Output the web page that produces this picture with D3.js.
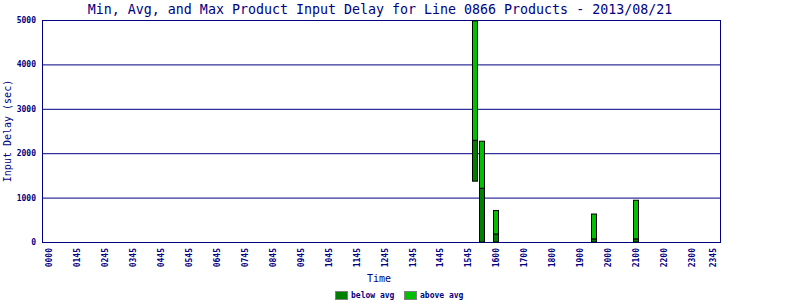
<!DOCTYPE html>
<html><head><meta charset="utf-8">
<script src="https://cdn.jsdelivr.net/npm/d3@7"></script>
<style>body{margin:0;background:#fff}svg{display:block}</style>
</head><body>
<svg id="c" width="800" height="300"></svg>
<script>
const titleText = "Min, Avg, and Max Product Input Delay for Line 0866 Products - 2013/08/21";
const barTimes = [15.25, 15.5, 16.0, 19.5, 21.0];
const minVals = [1370, 0, 0, 0, 0];
const avgVals = [2290, 1210, 180, 70, 70];
const maxVals = [4980, 2270, 710, 630, 940];
const tickPos = [0,1,2,3,4,5,6,7,8,9,10,11,12,13,14,15,16,17,18,19,20,21,22,23,23.75];
const tickLabels = ["0000","0145","0245","0345","0445","0545","0645","0745","0845","0945","1045","1145","1245","1345","1445","1545","1600","1700","1800","1900","2000","2100","2200","2300","2345"];
const yTicks = [0,1000,2000,3000,4000,5000];
const legendLabels = ["below avg","above avg"];

const navy = "#000080", dark = "#008000", light = "#00c000";
const font = "'DejaVu Sans Mono', monospace";
const svg = d3.select("#c");
const L = 42, R = 720, T = 20, B = 242;
const x = d3.scaleLinear().domain([-0.25, 24]).range([L, R]);
const y = d3.scaleLinear().domain([0, 5000]).range([B, T]);

// gridlines
svg.append("g").selectAll("line").data(yTicks).join("line")
  .attr("x1", L).attr("x2", R).attr("y1", d => y(d)+0.5).attr("y2", d => y(d)+0.5)
  .attr("stroke", navy).attr("stroke-width", 1);
// frame
svg.append("rect").attr("x", L+0.5).attr("y", T+0.5).attr("width", R-L).attr("height", B-T)
  .attr("fill", "none").attr("stroke", navy).attr("stroke-width", 1);

// y axis labels
const ya = svg.append("g").attr("transform", `translate(${L},0)`)
  .call(d3.axisLeft(y).tickValues(yTicks).tickSize(0).tickPadding(6).tickFormat(d3.format("d")));
ya.select(".domain").remove();
ya.selectAll("text").attr("fill", navy).attr("font-family", font).attr("font-size", 8).attr("font-weight", "bold");

// x axis labels
const xa = svg.append("g").attr("transform", `translate(0,${B})`)
  .call(d3.axisBottom(x).tickValues(tickPos).tickSize(0).tickFormat((d,i) => tickLabels[i]));
xa.select(".domain").remove();
xa.selectAll("text").attr("fill", navy).attr("font-family", font).attr("font-size", 8).attr("font-weight", "bold")
  .attr("transform", "rotate(-90)").attr("text-anchor", "end").attr("x", -6).attr("y", 0).attr("dy", "0.32em");

// bars
const bw = 5;
const bars = svg.append("g");
barTimes.forEach((t, i) => {
  const cx = Math.round(x(t)) - 2.5;
  bars.append("rect").attr("x", cx).attr("width", bw)
    .attr("y", y(avgVals[i])).attr("height", y(minVals[i]) - y(avgVals[i]))
    .attr("fill", dark).attr("stroke", "#000").attr("stroke-width", 1);
  bars.append("rect").attr("x", cx).attr("width", bw)
    .attr("y", y(maxVals[i])).attr("height", y(avgVals[i]) - y(maxVals[i]))
    .attr("fill", light).attr("stroke", "#000").attr("stroke-width", 1);
});

// title
svg.append("text").attr("x", 380).attr("y", 14).attr("text-anchor", "middle")
  .attr("font-family", font).attr("font-size", 13.3).attr("fill", navy).text(titleText);
// axis titles
svg.append("text").attr("x", 379).attr("y", 282).attr("text-anchor", "middle")
  .attr("font-family", font).attr("font-size", 10).attr("fill", navy).text("Time");
svg.append("text").attr("transform", `translate(11,${(T+B)/2}) rotate(-90)`).attr("text-anchor", "middle")
  .attr("font-family", font).attr("font-size", 10).attr("fill", navy).text("Input Delay (sec)");

// legend
const lg = svg.append("g");
const lx = [335, 404];
legendLabels.forEach((lab, i) => {
  lg.append("rect").attr("x", lx[i]+0.5).attr("y", 291.5).attr("width", 12).attr("height", 8)
    .attr("fill", i === 0 ? dark : light).attr("stroke", "#808080");
  lg.append("text").attr("x", lx[i] + 16).attr("y", 298).attr("font-family", font)
    .attr("font-size", 8).attr("font-weight", "bold").attr("fill", navy).text(lab);
});
</script>
</body></html>
